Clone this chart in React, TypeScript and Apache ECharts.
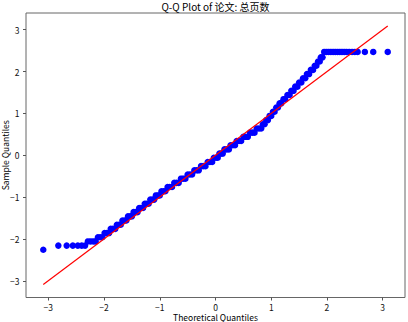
import React, { useEffect, useRef } from "react";
import * as echarts from "echarts";

const chartTitle = "Q-Q Plot of 论文: 总页数";
const xAxisName = "Theoretical Quantiles";
const yAxisName = "Sample Quantiles";
const tickValues = [-3, -2, -1, 0, 1, 2, 3];

// Points (theoretical quantile, sample quantile)
const theoreticalQuantiles = [
  -3.09,
  -2.82, -2.67, -2.56, -2.47, -2.4, -2.34,
  -2.29, -2.24, -2.19, -2.15,
  -2.11, -2.07, -2.03,
  -1.99, -1.95, -1.91,
  -1.88, -1.84, -1.8,
  -1.77, -1.73, -1.7,
  -1.67, -1.63, -1.6,
  -1.57, -1.53, -1.5,
  -1.47, -1.44, -1.4,
  -1.37, -1.34, -1.3,
  -1.27, -1.24, -1.2,
  -1.17, -1.13, -1.1,
  -1.07, -1.03, -1.0,
  -0.97, -0.93, -0.9,
  -0.86, -0.82, -0.78,
  -0.74, -0.7, -0.66,
  -0.62, -0.58, -0.54,
  -0.5, -0.46, -0.42,
  -0.38, -0.34, -0.3,
  -0.26, -0.22, -0.18,
  -0.14, -0.1, -0.06,
  -0.03, 0.01, 0.04,
  0.07, 0.1, 0.13,
  0.16, 0.2, 0.24,
  0.27, 0.31, 0.35,
  0.38, 0.42, 0.46,
  0.5, 0.54, 0.58,
  0.62, 0.66, 0.7,
  0.74, 0.78, 0.82,
  0.85, 0.88,
  0.91, 0.94,
  0.97, 1.0,
  1.03, 1.06,
  1.09, 1.12,
  1.15, 1.18,
  1.22, 1.25,
  1.29, 1.33,
  1.36, 1.4,
  1.43, 1.47,
  1.5, 1.54,
  1.57, 1.61,
  1.64, 1.68,
  1.71, 1.75,
  1.78, 1.81,
  1.84, 1.87,
  1.89, 1.92,
  1.95, 1.99, 2.03, 2.07, 2.11, 2.15, 2.19, 2.23, 2.27, 2.31, 2.35, 2.4, 2.45, 2.5, 2.55,
  2.68, 2.83, 3.09,
];

const sampleQuantiles = [
  -2.26,
  -2.16, -2.16, -2.16, -2.16, -2.16, -2.16,
  -2.06, -2.06, -2.06, -2.06,
  -1.96, -1.96, -1.96,
  -1.86, -1.86, -1.86,
  -1.76, -1.76, -1.76,
  -1.66, -1.66, -1.66,
  -1.56, -1.56, -1.56,
  -1.46, -1.46, -1.46,
  -1.36, -1.36, -1.36,
  -1.26, -1.26, -1.26,
  -1.16, -1.16, -1.16,
  -1.06, -1.06, -1.06,
  -0.96, -0.96, -0.96,
  -0.86, -0.86, -0.86,
  -0.76, -0.76, -0.76,
  -0.66, -0.66, -0.66,
  -0.56, -0.56, -0.56,
  -0.46, -0.46, -0.46,
  -0.36, -0.36, -0.36,
  -0.26, -0.26, -0.26,
  -0.16, -0.16, -0.16,
  -0.06, -0.06, -0.06,
  0.04, 0.04, 0.04,
  0.14, 0.14, 0.14,
  0.24, 0.24, 0.24,
  0.34, 0.34, 0.34,
  0.44, 0.44, 0.44,
  0.54, 0.54, 0.54,
  0.64, 0.64, 0.64,
  0.74, 0.74,
  0.84, 0.84,
  0.94, 0.94,
  1.04, 1.04,
  1.14, 1.14,
  1.24, 1.24,
  1.34, 1.34,
  1.44, 1.44,
  1.54, 1.54,
  1.64, 1.64,
  1.74, 1.74,
  1.84, 1.84,
  1.94, 1.94,
  2.04, 2.04,
  2.14, 2.14,
  2.24, 2.24,
  2.34, 2.34,
  2.47, 2.47, 2.47, 2.47, 2.47, 2.47, 2.47, 2.47, 2.47, 2.47, 2.47, 2.47, 2.47, 2.47, 2.47,
  2.47, 2.47, 2.47,
];

const refLineX = [-3.09, 3.09];
const refLineY = [-3.09, 3.09];

const FONT = "'Noto Sans CJK SC', 'DejaVu Sans', sans-serif";

export default function App() {
  const ref = useRef<HTMLDivElement>(null);
  useEffect(() => {
    if (!ref.current) return;
    const chart = echarts.init(ref.current, null, { renderer: "svg" });
    const fmt = (v: number) => (v < 0 ? "\u2212" + Math.abs(v) : String(v));
    const axisCommon = {
      type: "value" as const,
      min: -3.4,
      max: 3.4,
      nameLocation: "middle" as const,
      nameMoveOverlap: false,
      nameTextStyle: { fontFamily: FONT, fontSize: 8.5, lineHeight: 9, color: "#000" },
      axisLine: { show: false, onZero: false },
      axisTick: {
        show: true,
        length: 3,
        inside: false,
        customValues: tickValues,
        lineStyle: { color: "#555", width: 1 },
      },
      axisLabel: {
        customValues: tickValues,
        formatter: fmt,
        fontFamily: FONT,
        fontSize: 8.5,
        lineHeight: 9,
        color: "#111",
      },
      splitLine: { show: false },
    };
    chart.setOption({
      animation: false,
      backgroundColor: "#ffffff",
      title: {
        text: chartTitle,
        left: 215.5,
        top: 1,
        padding: 0,
        textAlign: "center",
        textStyle: { fontFamily: FONT, fontSize: 10, lineHeight: 11, fontWeight: "normal", color: "#000" },
      },
      grid: {
        left: 26,
        right: 3,
        top: 13,
        bottom: 24.5,
        show: true,
        borderColor: "#666",
        borderWidth: 1,
        containLabel: false,
        outerBoundsMode: "none",
      },
      xAxis: {
        ...axisCommon,
        name: xAxisName,
        nameGap: 15,
        axisLabel: { ...axisCommon.axisLabel, margin: 4.5 },
      },
      yAxis: {
        ...axisCommon,
        name: yAxisName,
        nameGap: 17,
        axisLabel: { ...axisCommon.axisLabel, margin: 6.5 },
      },
      series: [
        {
          type: "scatter",
          data: theoreticalQuantiles.map((x, i) => [x, sampleQuantiles[i]]),
          symbol: "circle",
          symbolSize: 6.5,
          itemStyle: { color: "#0000ff", opacity: 1 },
          z: 2,
        },
        {
          type: "line",
          data: refLineX.map((x, i) => [x, refLineY[i]]),
          symbol: "none",
          lineStyle: { color: "#ff0000", width: 1.2 },
          z: 3,
        },
      ],
    });
    return () => chart.dispose();
  }, []);
  return (
    <div
      ref={ref}
      style={{ position: "absolute", left: 0, top: 0, width: 408, height: 322 }}
    />
  );
}
